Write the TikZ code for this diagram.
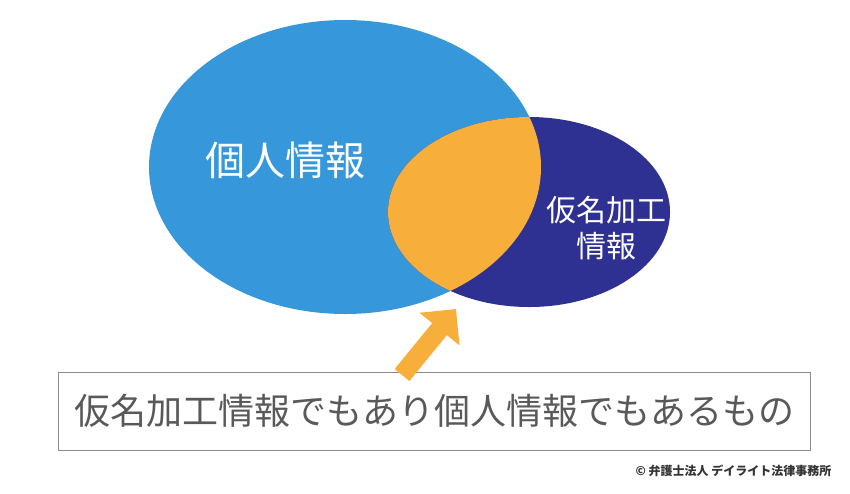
\documentclass[tikz,border=0pt]{standalone}
\usepackage{fontspec}
\setmainfont{Noto Sans CJK JP}
\usetikzlibrary{arrows.meta}
\definecolor{infoblue}{HTML}{3698DB}
\definecolor{pseudonavy}{HTML}{2E3092}
\definecolor{overlaporange}{HTML}{F8AE3B}
\tikzstyle{bigLabel} = [text=white, font=\fontsize{40}{44}\selectfont]
\tikzstyle{smallLabel} = [text=white, font=\fontsize{30}{36}\selectfont, align=center]
\begin{document}
\begin{tikzpicture}[x=1pt,y=-1pt]
  \useasboundingbox (0,0) rectangle (850,493);
  % circles
  \fill [infoblue] (345,167) ellipse [x radius=196, y radius=147];
  \fill [pseudonavy] (529,212) ellipse [x radius=141, y radius=95];
  \begin{scope}
    \clip (345,167) ellipse [x radius=196, y radius=147];
    \fill [overlaporange] (529,212) ellipse [x radius=141, y radius=95];
  \end{scope}
  \node [bigLabel] (personal) at (285,160) {個人情報};
  \node [smallLabel] (pseudo) at (606,228) {仮名加工\\情報};
  % box and arrow
  \node [draw=black!45, line width=0.8pt, minimum width=752, minimum height=78,
         text=black!65, font=\fontsize{36}{40}\selectfont] (box) at (434,411)
        {仮名加工情報でもあり個人情報でもあるもの};
  \coordinate (tip) at (456,309);
  \draw [overlaporange, line width=19pt, -{Triangle[length=26pt,width=50pt]}]
        (402,375) -- (tip);
  \node [anchor=east, font=\bfseries\fontsize{12}{14}\selectfont, text=black!80]
        (copy) at (835,471) {© 弁護士法人 デイライト法律事務所};
\end{tikzpicture}
\end{document}
